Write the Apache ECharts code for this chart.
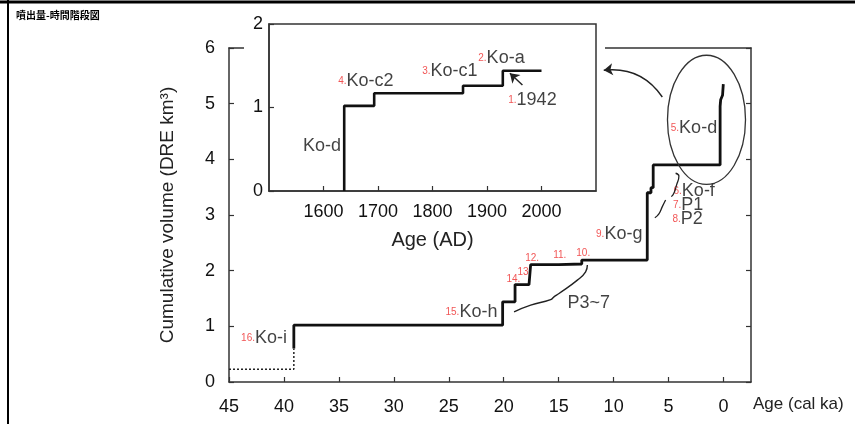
<!DOCTYPE html>
<html>
<head>
<meta charset="utf-8">
<script src="https://cdn.jsdelivr.net/npm/echarts@6/dist/echarts.min.js"></script>
<style>
  html, body { margin: 0; padding: 0; background: #fff; }
  #chart { width: 855px; height: 424px; }
</style>
</head>
<body>
<div id="chart"></div>
<script>
// main plot: cumulative volume vs age (cal ka), step at each eruption
const mainAge = [39.1, 39.1, 20.1, 18.97, 17.7, 17.55, 15.0, 12.9, 6.94, 6.6, 6.4, 0.31, 0.26, 0.09, 0.02];
const mainVol = [0.6, 1.02, 1.44, 1.75, 1.77, 2.11, 2.12, 2.19, 3.40, 3.49, 3.90, 4.95, 5.07, 5.15, 5.35];
// dotted part before Ko-i
const dotAge = [45, 39.1, 39.1];
const dotVol = [0.23, 0.23, 0.6];
// inset: historic eruptions (AD)
const insetYear = [1638, 1638, 1693, 1856, 1929, 2000];
const insetVol = [0, 1.02, 1.17, 1.26, 1.44, 1.44];

const ageTicks = [0, 5, 10, 15, 20, 25, 30, 35, 40, 45];
const yearTicks = [1600, 1700, 1800, 1900, 2000];

// labels on main plot
const noteNum = ['16.', '15.', '14.', '13.', '12.', '11.', '10.', '', '9.', '6.', '7.', '8.', '5.'];
const noteTxt = ['Ko-i', 'Ko-h', '', '', '', '', '', 'P3~7', 'Ko-g', 'Ko-f', 'P1', 'P2', 'Ko-d'];
const noteAge = [43.9, 25.3, 19.75, 18.75, 18.05, 15.5, 13.4, 14.2, 11.6, 4.55, 4.6, 4.65, 4.8];
const noteVol = [0.79, 1.26, 1.85, 1.98, 2.22, 2.28, 2.31, 1.42, 2.66, 3.43, 3.18, 2.93, 4.56];
// labels on inset
const insNum = ['4.', '3.', '2.', '1.'];
const insTxt = ['Ko-c2', 'Ko-c1', 'Ko-a', '1942'];
const insYear = [1627, 1781, 1884, 1939];
const insVol = [1.32, 1.44, 1.59, 1.09];

// brace for P3~7 and small brackets near Ko-f / P1 / P2
const braceAge = [19.06, 17.55, 15.73, 15.43, 14.97, 13.3, 12.55, 12.39];
const braceVol = [1.26, 1.38, 1.48, 1.53, 1.59, 1.83, 1.98, 2.10];
const brk1Age = [4.36, 4.06, 4.27, 4.52, 4.75];
const brk1Vol = [3.75, 3.70, 3.54, 3.39, 3.33];
const brk2Age = [5.27, 5.57, 5.88, 6.25];
const brk2Vol = [3.27, 3.15, 3.02, 2.95];

const font = 'Liberation Sans, Arial, Helvetica, sans-serif';
const axisColor = '#333';

function zip(a, b) { return a.map((v, i) => [v, b[i]]); }

const chart = echarts.init(document.getElementById('chart'));

const rich = {
  r: { color: '#ee2b2b', fontSize: 10, fontFamily: font },
  t: { color: '#111', fontSize: 18, fontFamily: font }
};
function noteLabel(p) {
  let s = '';
  if (p.data.num) s += '{r|' + p.data.num + '}';
  if (p.data.txt) s += '{t|' + p.data.txt + '}';
  return s;
}

const option = {
  animation: false,
  title: {
    text: '噴出量-時間階段図',
    left: 11, top: 5,
    textStyle: { fontSize: 10, fontWeight: 'bold', color: '#000', fontFamily: 'Noto Sans CJK JP' }
  },
  grid: [
    { left: 229, right: 104, top: 48, bottom: 42 },
    { left: 269, top: 24, width: 327, height: 167, show: true, backgroundColor: '#fff',
      borderColor: axisColor, borderWidth: 1.5, z: 60 }
  ],
  xAxis: [
    {
      gridIndex: 0, type: 'value', inverse: true, min: -2.5, max: 45,
      axisLine: { onZero: false, lineStyle: { color: axisColor, width: 1.5 } },
      axisTick: { inside: true, length: 5, customValues: ageTicks, lineStyle: { color: axisColor, width: 1.2 } },
      axisLabel: { customValues: ageTicks, margin: 16, fontSize: 18, color: '#111', fontFamily: font },
      splitLine: { show: false },
      name: 'Age (cal ka)', nameLocation: 'start', nameGap: 2,
      nameTextStyle: { fontSize: 17, color: '#222', fontFamily: font, align: 'left', verticalAlign: 'top', padding: [14, 0, 0, 0] }
    },
    {
      gridIndex: 0, type: 'value', inverse: true, min: -2.5, max: 45, position: 'top',
      axisLine: { onZero: false, lineStyle: { color: axisColor, width: 1.5 } },
      axisTick: { show: false }, axisLabel: { show: false }, splitLine: { show: false }
    },
    {
      gridIndex: 1, type: 'value', min: 1500, max: 2100, z: 61,
      axisLine: { onZero: false, lineStyle: { color: axisColor, width: 1.5 } },
      axisTick: { inside: true, length: 5, customValues: yearTicks, lineStyle: { color: axisColor, width: 1.2 } },
      axisLabel: { customValues: yearTicks, formatter: v => String(v), margin: 12, fontSize: 18, color: '#111', fontFamily: font },
      splitLine: { show: false },
      name: 'Age (AD)', nameLocation: 'middle', nameGap: 39,
      nameTextStyle: { fontSize: 20, color: '#222', fontFamily: font }
    }
  ],
  yAxis: [
    {
      gridIndex: 0, type: 'value', min: 0, max: 6, interval: 1,
      axisLine: { onZero: false, lineStyle: { color: axisColor, width: 1.5 } },
      axisTick: { inside: true, length: 5, lineStyle: { color: axisColor, width: 1.2 } },
      axisLabel: { margin: 14, fontSize: 18, color: '#111', fontFamily: font },
      splitLine: { show: false },
      name: 'Cumulative volume (DRE km³)', nameLocation: 'middle', nameGap: 52,
      nameTextStyle: { fontSize: 19, color: '#222', fontFamily: font }
    },
    {
      gridIndex: 0, type: 'value', min: 0, max: 6, interval: 1, position: 'right',
      axisLine: { onZero: false, lineStyle: { color: axisColor, width: 1.5 } },
      axisTick: { inside: true, length: 5, lineStyle: { color: axisColor, width: 1.2 } },
      axisLabel: { show: false }, splitLine: { show: false }
    },
    {
      gridIndex: 1, type: 'value', min: 0, max: 2, interval: 1, z: 61,
      axisLine: { onZero: false, lineStyle: { color: axisColor, width: 1.5 } },
      axisTick: { inside: true, length: 5, lineStyle: { color: axisColor, width: 1.2 } },
      axisLabel: { margin: 6, fontSize: 18, color: '#111', fontFamily: font },
      splitLine: { show: false }
    }
  ],
  series: [
    {
      type: 'line', xAxisIndex: 0, yAxisIndex: 0, step: 'end', symbol: 'none',
      data: zip(mainAge, mainVol), lineStyle: { color: '#111', width: 2.8 }
    },
    {
      type: 'line', xAxisIndex: 0, yAxisIndex: 0, symbol: 'none',
      data: zip(dotAge, dotVol), lineStyle: { color: '#222', width: 1.5, type: [2, 2] }
    },
    {
      type: 'line', xAxisIndex: 0, yAxisIndex: 0, symbol: 'none', smooth: 0.5,
      data: zip(braceAge, braceVol), lineStyle: { color: '#222', width: 1.4 }
    },
    {
      type: 'line', xAxisIndex: 0, yAxisIndex: 0, symbol: 'none', smooth: 0.5,
      data: zip(brk1Age, brk1Vol), lineStyle: { color: '#222', width: 1.3 }
    },
    {
      type: 'line', xAxisIndex: 0, yAxisIndex: 0, symbol: 'none', smooth: 0.5,
      data: zip(brk2Age, brk2Vol), lineStyle: { color: '#222', width: 1.3 }
    },
    {
      type: 'lines', coordinateSystem: 'cartesian2d', xAxisIndex: 0, yAxisIndex: 0,
      symbol: ['none', 'arrow'], symbolSize: 9,
      lineStyle: { color: '#222', width: 1.4, curveness: -0.3, opacity: 1 },
      data: [{ coords: [[5.57, 5.12], [10.9, 5.6]] }]
    },
    {
      type: 'scatter', xAxisIndex: 0, yAxisIndex: 0, symbolSize: 0,
      data: noteAge.map((a, i) => ({ value: [a, noteVol[i]], num: noteNum[i], txt: noteTxt[i] })),
      label: { show: true, position: 'right', distance: 0, formatter: noteLabel, rich: rich }
    },
    {
      type: 'line', xAxisIndex: 2, yAxisIndex: 2, step: 'end', symbol: 'none', z: 62,
      data: zip(insetYear, insetVol), lineStyle: { color: '#111', width: 2.6 }
    },
    {
      type: 'lines', coordinateSystem: 'cartesian2d', xAxisIndex: 2, yAxisIndex: 2, z: 63,
      symbol: ['none', 'arrow'], symbolSize: 9,
      lineStyle: { color: '#222', width: 1.5, opacity: 1 },
      data: [{ coords: [[1965, 1.27], [1942, 1.41]] }]
    },
    {
      type: 'scatter', xAxisIndex: 2, yAxisIndex: 2, symbolSize: 0, z: 63,
      data: insYear.map((a, i) => ({ value: [a, insVol[i]], num: insNum[i], txt: insTxt[i] })),
      label: { show: true, position: 'right', distance: 0, formatter: noteLabel, rich: rich }
    },
    {
      type: 'scatter', xAxisIndex: 2, yAxisIndex: 2, symbolSize: 0, z: 63,
      data: [{ value: [1632, 0.54], txt: 'Ko-d' }],
      label: { show: true, position: 'left', distance: 0, formatter: noteLabel, rich: rich }
    }
  ],
  graphic: [
    { id: 'mask', type: 'rect', z: 55, shape: { x: 244, y: 40, width: 361, height: 16 }, style: { fill: '#fff' } },
    { id: 'frameTop', type: 'line', z: 70, shape: { x1: 0, y1: 2, x2: 855, y2: 2 }, style: { stroke: '#000', lineWidth: 3 } },
    { id: 'frameLeft', type: 'line', z: 70, shape: { x1: 8, y1: 0, x2: 8, y2: 424 }, style: { stroke: '#000', lineWidth: 2 } }
  ]
};

chart.setOption(option);

// ellipse around the Ko-d part, placed through the main axes
const c = chart.convertToPixel({ xAxisIndex: 0, yAxisIndex: 0 }, [1.55, 4.71]);
const e = chart.convertToPixel({ xAxisIndex: 0, yAxisIndex: 0 }, [1.55 + 3.55, 4.71 + 1.16]);
chart.setOption({
  graphic: [{
    id: 'ring', type: 'ellipse', z: 10,
    shape: { cx: c[0], cy: c[1], rx: Math.abs(c[0] - e[0]), ry: Math.abs(c[1] - e[1]) },
    style: { fill: 'transparent', stroke: '#333', lineWidth: 1.3 }
  }]
});
</script>
</body>
</html>
